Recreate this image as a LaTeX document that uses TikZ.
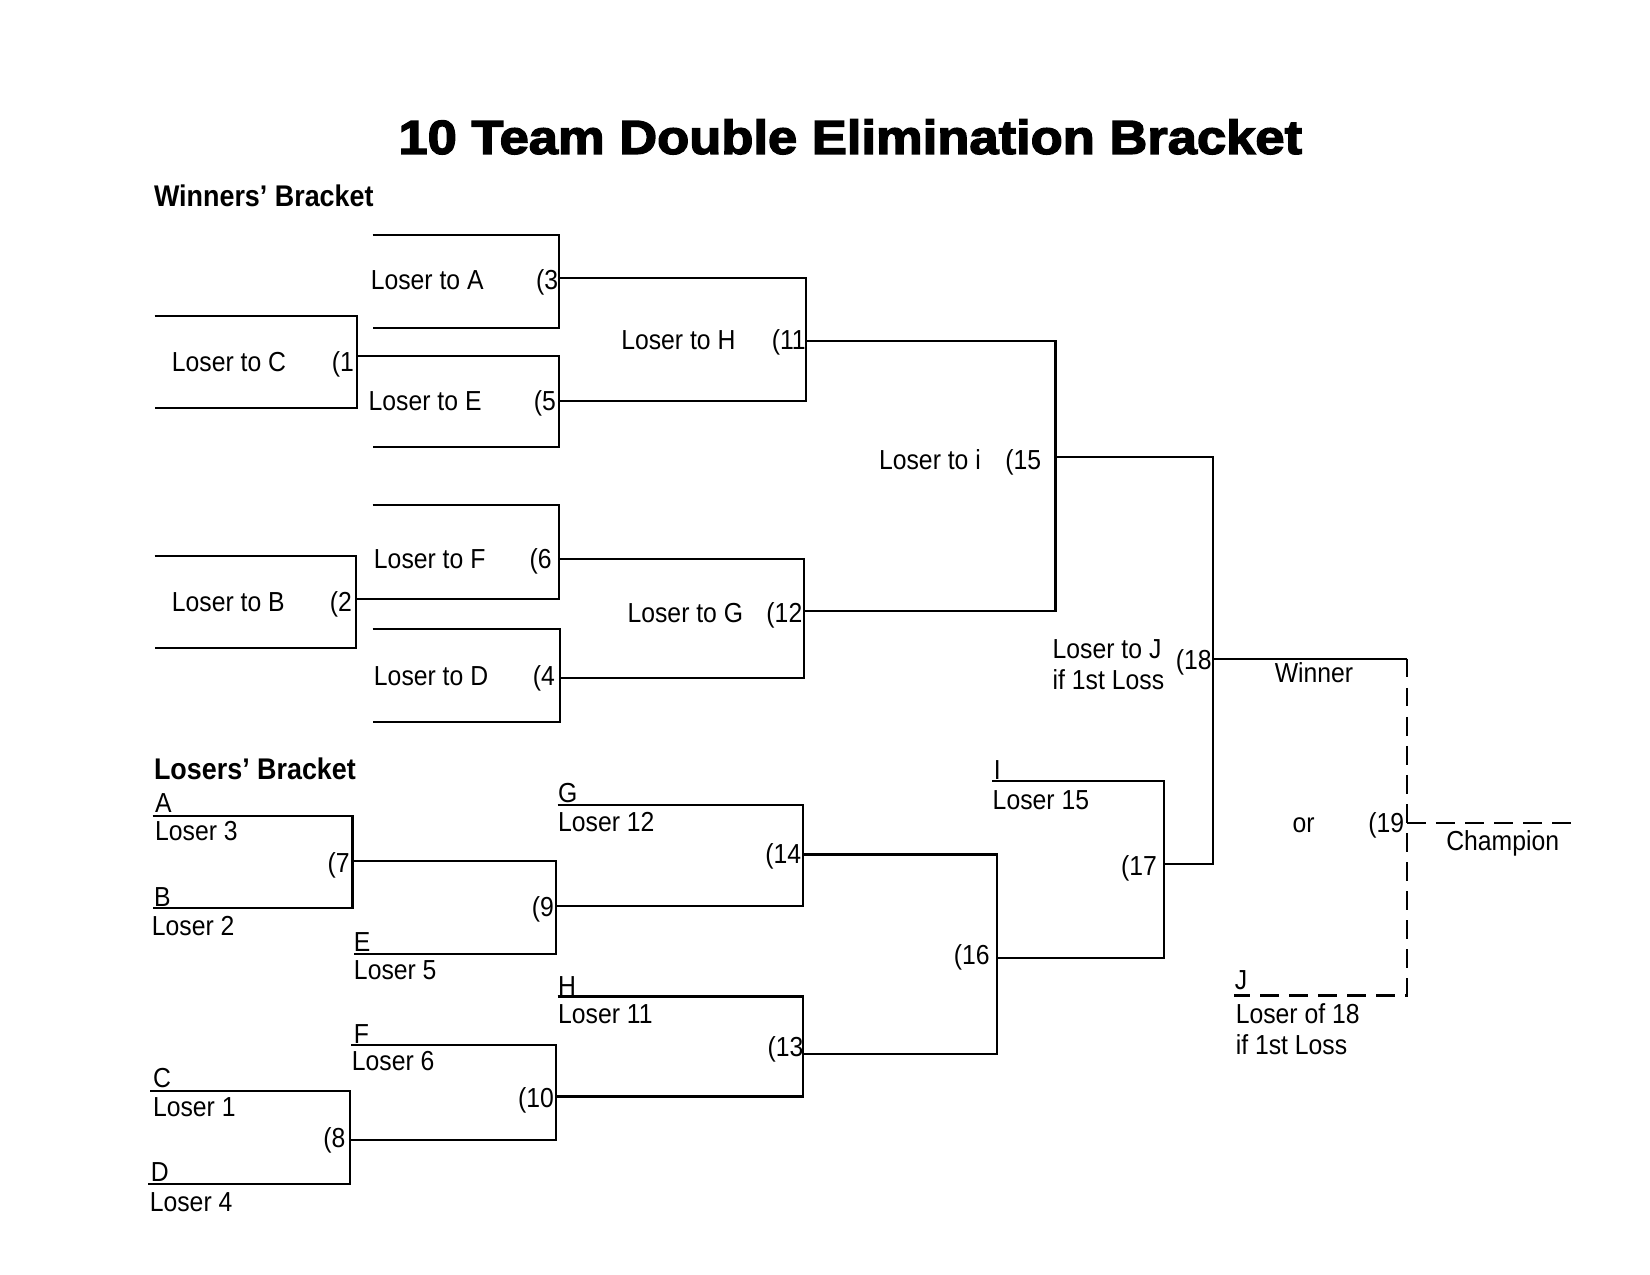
\documentclass[tikz,border=0pt]{standalone}
\usepackage{fontspec}
\setmainfont{Liberation Sans}[FakeStretch=0.9]
\newfontfamily\titlefont{Liberation Sans}[FakeStretch=1.1, BoldFeatures={FakeBold=3}]
\usetikzlibrary{positioning}

\tikzset{
    lbl/.style={anchor=base west, inner sep=0pt, font=\fontsize{13.25}{16}\selectfont},
    head/.style={lbl, font=\fontsize{14.4}{17}\selectfont\bfseries},
    bar/.style={line width=1pt},
    ifgame/.style={line width=1pt, dash pattern=on 9pt off 5pt},
}

\begin{document}
\begin{tikzpicture}[x=0.507pt, y=-0.507pt]
                    \useasboundingbox (0,0) rectangle (1568,1211.6);

                    \node [inner sep=0pt, font=\titlefont\fontsize{23}{28}\selectfont\bfseries] (title) at (808,130) {10 Team Double Elimination Bracket};
                    \node [head] (wb) at (146,196) {Winners' Bracket};
                    \node [head] (lb) at (146,741) {Losers' Bracket};

                    % winners' bracket
                    \draw [bar] (147,300) -| (339,388) -- (147,388);
                    \draw [bar] (354,223) -| (531,312) -- (354,312);
                    \draw [bar] (339,338) -| (531,425) -- (354,425);
                    \draw [bar] (531,264) -| (766,381) -- (531,381);
                    \draw [bar] (147,528) -| (338,616) -- (147,616);
                    \draw [bar] (354,480) -| (531,569) -- (338,569);
                    \draw [bar] (354,598) -| (532,686) -- (354,686);
                    \draw [bar] (531,531) -| (764,644) -- (532,644);
                    \draw [bar] (766,324) -| (1003,581) -- (764,581);
                    \draw [bar] (1003,434) -| (1153,821) -- (1106,821);
                    \draw [bar] (1153,626) -- (1337,626);

                    \node [lbl] (lc) at (163,353) {Loser to C};
                    \node [lbl] (n1) at (315,353) {(1};
                    \node [lbl] (la) at (352,275) {Loser to A};
                    \node [lbl] (n3) at (509,275) {(3};
                    \node [lbl] (le) at (350,390) {Loser to E};
                    \node [lbl] (n5) at (507,390) {(5};
                    \node [lbl] (lh) at (590,332) {Loser to H};
                    \node [lbl] (n11) at (733,332) {(11};
                    \node [lbl] (lbb) at (163,581) {Loser to B};
                    \node [lbl] (n2) at (313,581) {(2};
                    \node [lbl] (lf) at (355,540) {Loser to F};
                    \node [lbl] (n6) at (503,540) {(6};
                    \node [lbl] (ld) at (355,651) {Loser to D};
                    \node [lbl] (n4) at (506,651) {(4};
                    \node [lbl] (lg) at (596,592) {Loser to G};
                    \node [lbl] (n12) at (728,592) {(12};
                    \node [lbl] (li) at (835,446) {Loser to i};
                    \node [lbl] (n15) at (955,446) {(15};
                    \node [lbl] (lj) at (1000,626) {Loser to J};
                    \node [lbl] (lj2) at (1000,655) {if 1st Loss};
                    \node [lbl] (n18) at (1117,636) {(18};
                    \node [lbl] (win) at (1211,649) {Winner};

                    % losers' bracket
                    \draw [bar] (145,775) -| (335,863) -- (145,863);
                    \draw [bar] (335,818) -| (528,907) -- (336,907);
                    \draw [bar] (530,765) -| (763,861) -- (528,861);
                    \draw [bar] (143,1037) -| (333,1125) -- (141,1125);
                    \draw [bar] (334,993) -| (528,1083) -- (333,1083);
                    \draw [bar] (530,947) -| (763,1042) -- (528,1042);
                    \draw [bar] (763,812) -| (947,1002) -- (763,1002);
                    \draw [bar] (943,742) -| (1106,910) -- (947,910);

                    \node [lbl] (sa) at (147,772) {A};
                    \node [lbl] (l3) at (147,799) {Loser 3};
                    \node [lbl] (sb) at (146,861) {B};
                    \node [lbl] (l2) at (144,889) {Loser 2};
                    \node [lbl] (n7) at (311,829) {(7};
                    \node [lbl] (se) at (336,904) {E};
                    \node [lbl] (l5) at (336,931) {Loser 5};
                    \node [lbl] (n9) at (505,871) {(9};
                    \node [lbl] (sg) at (530,763) {G};
                    \node [lbl] (l12) at (530,790) {Loser 12};
                    \node [lbl] (n14) at (727,821) {(14};
                    \node [lbl] (sc) at (145,1033) {C};
                    \node [lbl] (l1) at (145,1061) {Loser 1};
                    \node [lbl] (sd) at (143,1123) {D};
                    \node [lbl] (l4) at (142,1151) {Loser 4};
                    \node [lbl] (n8) at (307,1090) {(8};
                    \node [lbl] (sf) at (336,992) {F};
                    \node [lbl] (l6) at (334,1017) {Loser 6};
                    \node [lbl] (n10) at (492,1052) {(10};
                    \node [lbl] (sh) at (530,946) {H};
                    \node [lbl] (l11) at (530,973) {Loser 11};
                    \node [lbl] (n13) at (729,1004) {(13};
                    \node [lbl] (n16) at (906,917) {(16};
                    \node [lbl] (si) at (944,741) {I};
                    \node [lbl] (l15) at (943,769) {Loser 15};
                    \node [lbl] (n17) at (1065,832) {(17};

                    % final if needed
                    \draw [ifgame] (1337,626) -- (1337,946) -- (1173,946);
                    \draw [ifgame] (1337,782) -- (1497,782);

                    \node [lbl] (or) at (1228,791) {or};
                    \node [lbl] (n19) at (1300,791) {(19};
                    \node [lbl] (champ) at (1374,808) {Champion};
                    \node [lbl] (sj) at (1173,940) {J};
                    \node [lbl] (l18) at (1174,973) {Loser of 18};
                    \node [lbl] (l18b) at (1174,1002) {if 1st Loss};
                \end{tikzpicture}
\end{document}
